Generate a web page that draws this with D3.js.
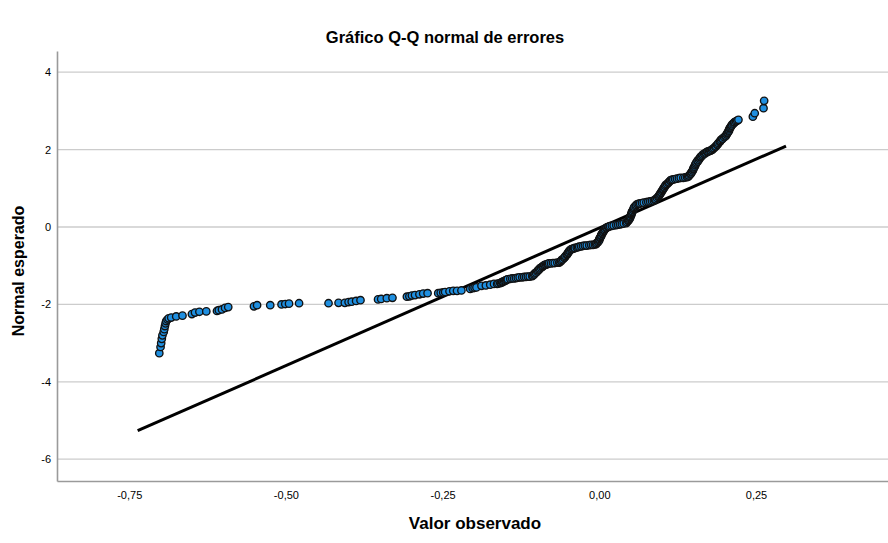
<!DOCTYPE html>
<html>
<head>
<meta charset="utf-8">
<script src="https://cdnjs.cloudflare.com/ajax/libs/d3/7.8.5/d3.min.js"></script>
<style>
body { margin: 0; background: #fff; }
svg { font-family: Arial, "Liberation Sans", sans-serif; }
</style>
</head>
<body>
<div id="chart"></div>
<script>
const width = 888;
const height = 543;

const margin = {
    "top": 51,
    "left": 57,
    "bottom": 62,
    "right": 0
}

// tick values
const xTicks = [-0.75, -0.5, -0.25, 0, 0.25];
const yTicks = [-6, -4, -2, 0, 2, 4];

// reference line (end points)
const fitLineX = [-0.7365, 0.2979];
const fitLineY = [-5.264, 2.093];

const lowerTail = [
    [-0.702,-3.26],[-0.700,-3.10],[-0.699,-3.00],[-0.698,-2.89],[-0.697,-2.80],[-0.695,-2.71],
    [-0.694,-2.64],[-0.693,-2.56],[-0.692,-2.49],[-0.691,-2.43],[-0.689,-2.39],[-0.687,-2.36],
    [-0.683,-2.34],[-0.675,-2.31],[-0.665,-2.29],[-0.650,-2.25],[-0.645,-2.21],[-0.638,-2.19],
    [-0.627,-2.18],[-0.610,-2.17],[-0.607,-2.15],[-0.602,-2.13],[-0.597,-2.09],[-0.592,-2.07],
    [-0.551,-2.05],[-0.546,-2.02],[-0.525,-2.02],[-0.507,-2.00],[-0.501,-1.99],[-0.495,-1.98],
    [-0.479,-1.97],[-0.432,-1.97],[-0.416,-1.96],[-0.406,-1.96],[-0.400,-1.94],[-0.395,-1.93],
    [-0.388,-1.91],[-0.381,-1.89],[-0.353,-1.87],[-0.348,-1.86],[-0.339,-1.84],[-0.330,-1.83],
    [-0.307,-1.80],[-0.303,-1.79],[-0.299,-1.77],[-0.294,-1.76],[-0.287,-1.74],[-0.281,-1.72],
    [-0.274,-1.71],[-0.257,-1.71],[-0.253,-1.70],[-0.249,-1.69],[-0.246,-1.68],[-0.239,-1.66],
    [-0.233,-1.65],[-0.227,-1.65],[-0.220,-1.64],[-0.206,-1.60],[-0.202,-1.58],[-0.199,-1.57],
    [-0.196,-1.56],[-0.188,-1.52],[-0.181,-1.51],[-0.174,-1.49],[-0.168,-1.47]
];

const middleBand = [
    [-0.163,-1.47],[-0.161,-1.46],[-0.158,-1.45],[-0.157,-1.44],[-0.155,-1.43],[-0.154,-1.41],
    [-0.152,-1.40],[-0.150,-1.39],[-0.149,-1.37],[-0.147,-1.36],[-0.146,-1.35],[-0.142,-1.34],
    [-0.139,-1.33],[-0.136,-1.33],[-0.133,-1.32],[-0.130,-1.31],[-0.127,-1.30],[-0.123,-1.30],
    [-0.120,-1.29],[-0.117,-1.29],[-0.114,-1.28],[-0.111,-1.28],[-0.107,-1.27],
    [-0.106,-1.25],[-0.104,-1.23],[-0.103,-1.20],[-0.101,-1.18],[-0.099,-1.15],[-0.098,-1.12],
    [-0.096,-1.10],[-0.095,-1.07],[-0.093,-1.05],[-0.091,-1.03],[-0.090,-1.01],[-0.088,-0.99],
    [-0.087,-0.98],[-0.085,-0.97],[-0.083,-0.96],[-0.082,-0.95],[-0.080,-0.94],
    [-0.077,-0.94],[-0.074,-0.93],[-0.071,-0.93],[-0.067,-0.92],[-0.064,-0.92],
    [-0.063,-0.90],[-0.061,-0.88],[-0.060,-0.85],[-0.058,-0.83],[-0.056,-0.80],[-0.055,-0.78],
    [-0.054,-0.75],[-0.052,-0.72],[-0.051,-0.70],[-0.050,-0.67],[-0.049,-0.65],[-0.048,-0.62],
    [-0.047,-0.60],[-0.045,-0.58],[-0.044,-0.57],[-0.042,-0.56],[-0.040,-0.55],[-0.039,-0.54],
    [-0.036,-0.53],[-0.034,-0.52],[-0.032,-0.51],[-0.029,-0.50],
    [-0.026,-0.49],[-0.023,-0.48],[-0.020,-0.48],[-0.016,-0.47],[-0.013,-0.46],[-0.010,-0.46],
    [-0.007,-0.45],
    [-0.005,-0.44],[-0.004,-0.41],[-0.002,-0.39],[-0.001,-0.36],[0.000,-0.34],[0.000,-0.31],
    [0.001,-0.28],[0.002,-0.26],[0.003,-0.23],[0.003,-0.21],[0.004,-0.18],[0.005,-0.16],
    [0.006,-0.13],[0.007,-0.10],[0.008,-0.08],[0.009,-0.05],[0.011,-0.03],[0.012,-0.01],
    [0.014,0.00],[0.015,0.01],[0.017,0.02],
    [0.020,0.03],[0.023,0.04],[0.027,0.05],[0.030,0.06],[0.033,0.07],[0.036,0.08],
    [0.039,0.09],[0.043,0.10],
    [0.044,0.13],[0.046,0.16],[0.047,0.18],[0.048,0.21],[0.049,0.23],[0.049,0.26],
    [0.050,0.28],[0.051,0.31],[0.051,0.34],[0.052,0.36],[0.052,0.39],[0.053,0.41],
    [0.054,0.44],[0.055,0.47],[0.055,0.49],[0.056,0.52],[0.058,0.54],[0.059,0.57],
    [0.061,0.59],[0.063,0.60],[0.065,0.61],
    [0.068,0.62],[0.071,0.63],[0.075,0.64],[0.078,0.65],[0.081,0.66],[0.084,0.67],[0.087,0.68],
    [0.089,0.70],[0.090,0.72],[0.092,0.75],[0.094,0.78],[0.095,0.80],[0.096,0.83],
    [0.097,0.85],[0.098,0.88],[0.099,0.90],[0.100,0.93],[0.101,0.96],[0.102,0.98],
    [0.103,1.01],[0.104,1.03],[0.105,1.06],[0.106,1.09],[0.108,1.11],[0.110,1.14],
    [0.111,1.16],[0.113,1.19],[0.114,1.21],[0.116,1.22],[0.118,1.23],
    [0.121,1.24],[0.124,1.25],[0.127,1.26],[0.130,1.27],[0.134,1.27],[0.137,1.28],[0.140,1.29],
    [0.142,1.30],[0.143,1.33],[0.145,1.36],[0.146,1.38],[0.147,1.41],[0.148,1.43],
    [0.149,1.46],[0.150,1.49],[0.150,1.51],[0.151,1.54],[0.152,1.56],[0.153,1.59],
    [0.153,1.61],[0.154,1.64],[0.155,1.67],[0.157,1.69],[0.157,1.72],[0.159,1.74],
    [0.160,1.77],[0.161,1.80],[0.162,1.82],[0.164,1.84],[0.165,1.87],[0.167,1.89],
    [0.169,1.90],[0.170,1.92],[0.172,1.94],[0.173,1.95],[0.175,1.96],[0.177,1.97],
    [0.178,1.98],[0.180,1.99],
    [0.181,2.02],[0.183,2.04],[0.185,2.07],[0.186,2.09],[0.188,2.12],[0.189,2.14],
    [0.190,2.17],[0.192,2.20],[0.193,2.22],[0.194,2.25],[0.196,2.27],[0.197,2.29],
    [0.199,2.32],[0.201,2.34],[0.202,2.36],[0.203,2.39],[0.204,2.42],[0.205,2.44],
    [0.206,2.47],[0.207,2.49],[0.207,2.52],[0.208,2.55],[0.209,2.57],[0.210,2.60],
    [0.211,2.62],[0.212,2.65],[0.214,2.67],[0.215,2.70],[0.216,2.71],[0.218,2.73],
    [0.220,2.75],[0.222,2.77]
];

const upperTail = [
    [0.245,2.85],[0.248,2.94],[0.262,3.07],[0.263,3.26]
];

const points = lowerTail.concat(middleBand, upperTail);

const locale = d3.formatLocale({
    "decimal": ",",
    "thousands": ".",
    "grouping": [3],
    "currency": ["", "€"],
    "minus": "-"
});

const xScale = d3.scaleLinear()
    .domain([-0.8652, 0.4606])
    .range([margin.left, width - margin.right]);

const yScale = d3.scaleLinear()
    .domain([-6.563, 4.548])
    .range([height - margin.bottom, margin.top]);

const svg = d3.select("#chart").append("svg")
    .attr("width", width)
    .attr("height", height);

// grid lines
svg.append("g")
    .selectAll("line")
    .data(yTicks)
    .join("line")
    .attr("x1", margin.left)
    .attr("x2", width - margin.right)
    .attr("y1", d => yScale(d))
    .attr("y2", d => yScale(d))
    .attr("stroke", "#cccccc")
    .attr("stroke-width", 1.3);

let xAxis = d3.axisBottom(xScale)
    .tickValues(xTicks)
    .tickFormat(locale.format(".2f"))
    .tickSize(0)
    .tickPadding(10);

let yAxis = d3.axisLeft(yScale)
    .tickValues(yTicks)
    .tickFormat(locale.format("d"))
    .tickSize(0)
    .tickPadding(6);

const gx = svg.append("g")
    .attr("transform", `translate(0,${height - margin.bottom})`)
    .call(xAxis);

const gy = svg.append("g")
    .attr("transform", `translate(${margin.left},0)`)
    .call(yAxis);

[gx, gy].forEach(g => {
    g.select(".domain").attr("stroke", "#9a9a9a").attr("stroke-width", 1.6);
    g.selectAll("text").attr("fill", "#000").style("font-size", "11px")
        .style("font-family", "Arial, 'Liberation Sans', sans-serif");
});

// reference line
svg.append("line")
    .attr("x1", xScale(fitLineX[0]))
    .attr("y1", yScale(fitLineY[0]))
    .attr("x2", xScale(fitLineX[1]))
    .attr("y2", yScale(fitLineY[1]))
    .attr("stroke", "#000")
    .attr("stroke-width", 3);

// points
svg.append("g")
    .selectAll("circle")
    .data(points)
    .join("circle")
    .attr("cx", d => xScale(d[0]))
    .attr("cy", d => yScale(d[1]))
    .attr("r", 3.7)
    .attr("fill", "#1f8fe0")
    .attr("stroke", "#111111")
    .attr("stroke-width", 1.35);

// titles
svg.append("text")
    .attr("x", 445)
    .attr("y", 43)
    .attr("text-anchor", "middle")
    .style("font-size", "16.5px")
    .style("font-weight", "bold")
    .text("Gráfico Q-Q normal de errores");

svg.append("text")
    .attr("x", 475)
    .attr("y", 529)
    .attr("text-anchor", "middle")
    .style("font-size", "17px")
    .style("font-weight", "bold")
    .text("Valor observado");

svg.append("text")
    .attr("transform", "translate(23.5,271) rotate(-90)")
    .attr("text-anchor", "middle")
    .style("font-size", "16px")
    .style("font-weight", "bold")
    .text("Normal esperado");
</script>
</body>
</html>
